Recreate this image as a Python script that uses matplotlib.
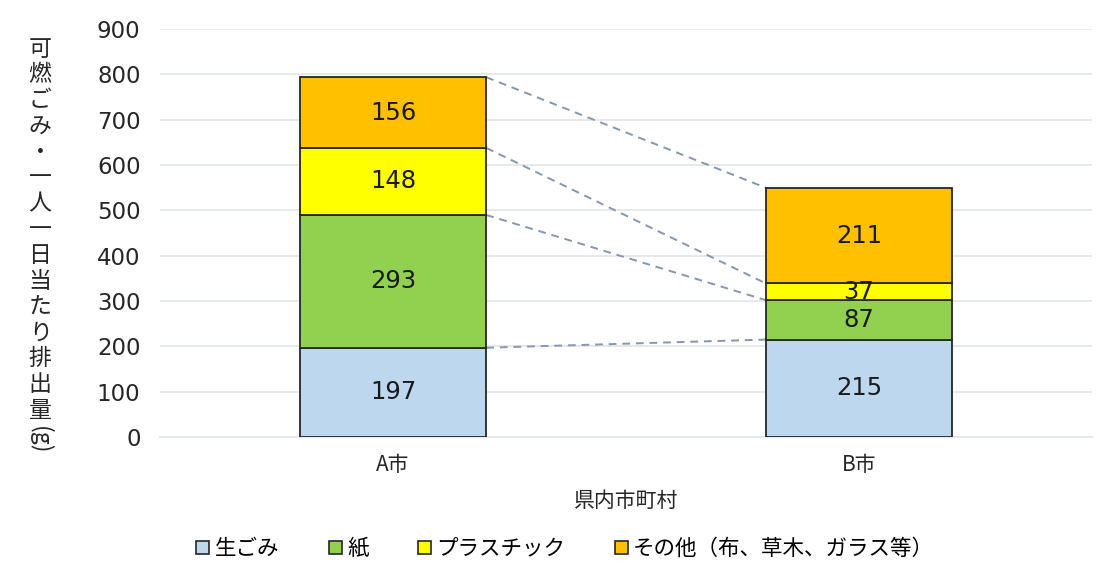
import numpy as np
import matplotlib.pyplot as plt
from matplotlib.patches import Patch

plt.rcParams['font.family'] = ['Noto Sans CJK JP', 'DejaVu Sans']

# データ
cities = ['A市', 'B市']
categories = ['生ごみ', '紙', 'プラスチック', 'その他（布、草木、ガラス等）']
values = {
    '生ごみ': [197, 215],
    '紙': [293, 87],
    'プラスチック': [148, 37],
    'その他（布、草木、ガラス等）': [156, 211],
}
yticks = [0, 100, 200, 300, 400, 500, 600, 700, 800, 900]
ylabel = '可燃ごみ・一人一日当たり排出量'
xlabel = '県内市町村'

colors = ['#BDD7EE', '#92D050', '#FFFF00', '#FFC000']

fig = plt.figure(figsize=(11.15, 5.72), dpi=100)
ax = fig.add_axes([0.1435, 0.236, 0.836, 0.713])

x = np.arange(len(cities))
w = 0.4
bottom = np.zeros(len(cities))
tops = []
for cat, col in zip(categories, colors):
    v = np.array(values[cat])
    ax.bar(x, v, w, bottom=bottom, color=col, edgecolor='#262626', linewidth=1.3, zorder=3)
    for xi, b, vi in zip(x, bottom, v):
        ax.text(xi, b + vi / 2, str(vi), ha='center', va='center',
                fontsize=17.5, family='DejaVu Sans', color='#1a1a1a', zorder=4)
    bottom = bottom + v
    tops.append(bottom.copy())

# 点線（各区分の累計を結ぶ）
for t in tops:
    ax.plot([x[0] + w / 2, x[1] - w / 2], [t[0], t[1]], ls=(0, (4, 3)),
            color='#8497B0', lw=1.4, zorder=2)

ax.set_xlim(-0.5, 1.5)
ax.set_ylim(0, 900)
ax.set_yticks(yticks)
ax.set_yticklabels([str(t) for t in yticks], fontsize=16.5, family='DejaVu Sans', color='#262626')
ax.set_xticks(x)
ax.set_xticklabels(cities, fontsize=15, color='#262626')
ax.tick_params(length=0, pad=12)
ax.tick_params(axis='y', pad=14)
ax.grid(axis='y', color='#E4E7EB', lw=1.3, zorder=0)
for s in ['top', 'right', 'left']:
    ax.spines[s].set_visible(False)
ax.spines['bottom'].set_color('#E4E7EB')
ax.spines['bottom'].set_linewidth(1.3)

ax.set_xlabel(xlabel, fontsize=15, color='#262626', labelpad=10)

# 縦書きの軸ラベル
y0 = 1 - 49 / 572
step = 25.8 / 572
for i, ch in enumerate(ylabel):
    fig.text(0.036, y0 - i * step, ch, ha='center', va='center', fontsize=16.5, color='#262626')
fig.text(0.036, y0 - (len(ylabel) - 1) * step - 0.052, '(g)', ha='center', va='center',
         rotation=-90, fontsize=16.5, color='#262626')

handles = [Patch(facecolor=c, edgecolor='#262626', linewidth=1.2) for c in colors]
fig.legend(handles, categories, loc='center', bbox_to_anchor=(0.507, 0.04), ncol=4,
           frameon=False, fontsize=15.5, handlelength=0.6, handleheight=0.6,
           handletextpad=0.25, columnspacing=2.3)

fig.savefig('out.png', dpi=100)
